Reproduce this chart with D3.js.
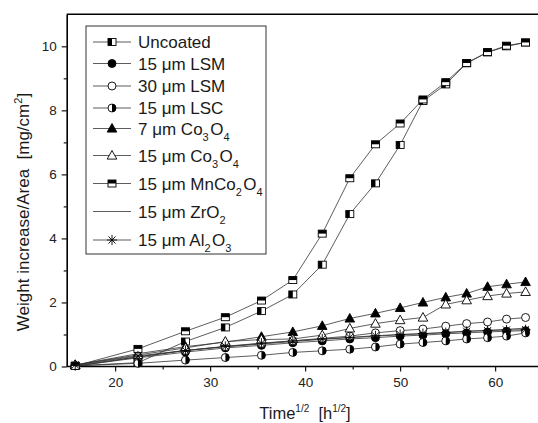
<!DOCTYPE html>
<html><head><meta charset="utf-8">
<script src="https://cdn.jsdelivr.net/npm/d3@7"></script>
<style>body{margin:0;background:#fff;overflow:hidden}</style>
</head><body>
<svg id="chart" width="538" height="423"></svg>
<script>
// ---- data ----
const timeSqrt = [15.8, 22.4, 27.4, 31.6, 35.4, 38.7, 41.8, 44.7, 47.4, 50.0, 52.4, 54.8, 57.0, 59.2, 61.2, 63.2];
const uncoated = [0.02, 0.12, 0.78, 1.22, 1.73, 2.25, 3.18, 4.76, 5.72, 6.92, 8.29, 8.81, 9.47, 9.81, 10.0, 10.12];
const lsm15    = [0.02, 0.27, 0.45, 0.58, 0.66, 0.74, 0.80, 0.86, 0.90, 0.95, 0.98, 1.02, 1.05, 1.08, 1.10, 1.12];
const lsm30    = [0.03, 0.30, 0.50, 0.62, 0.72, 0.80, 0.88, 0.95, 1.05, 1.12, 1.17, 1.26, 1.34, 1.39, 1.48, 1.53];
const lsc15    = [0.02, 0.10, 0.20, 0.28, 0.35, 0.44, 0.49, 0.54, 0.61, 0.70, 0.75, 0.80, 0.86, 0.90, 0.95, 1.05];
const co3o4_7  = [0.05, 0.40, 0.62, 0.76, 0.93, 1.08, 1.27, 1.50, 1.66, 1.83, 2.00, 2.16, 2.28, 2.49, 2.57, 2.64];
const co3o4_15 = [0.05, 0.36, 0.58, 0.78, 0.84, 0.86, 0.98, 1.19, 1.34, 1.45, 1.53, 1.94, 2.07, 2.20, 2.28, 2.33];
const mnco2o4  = [0.02, 0.55, 1.10, 1.54, 2.06, 2.70, 4.15, 5.88, 6.94, 7.59, 8.34, 8.88, 9.48, 9.82, 10.02, 10.12];
const zro2     = [0.00, 0.30, 0.50, 0.62, 0.70, 0.78, 0.85, 0.90, 0.95, 0.99, 1.02, 1.06, 1.10, 1.13, 1.16, 1.20];
const al2o3    = [0.05, 0.33, 0.50, 0.63, 0.73, 0.80, 0.86, 0.91, 0.96, 1.00, 1.03, 1.06, 1.10, 1.12, 1.14, 1.15];

const seriesLabels = ["Uncoated", "15 μm LSM", "30 μm LSM", "15 μm LSC", "7 μm Co_3O_4",
                      "15 μm Co_3O_4", "15 μm MnCo_2O_4", "15 μm ZrO_2", "15 μm Al_2O_3"];
const seriesValues = [uncoated, lsm15, lsm30, lsc15, co3o4_7, co3o4_15, mnco2o4, zro2, al2o3];
const xTicks = [20, 30, 40, 50, 60];
const xMinor = [25, 35, 45, 55];
const yTicks = [0, 2, 4, 6, 8, 10];
const yMinor = [1, 3, 5, 7, 9];

// ---- style ----
const markerTypes = ["sqLeft", "circleFill", "circleOpen", "circleHalf", "triFill", "triOpen", "sqTop", "none", "asterisk"];
const FONT = "'Liberation Sans', Arial, Helvetica, sans-serif";
const INK = "#1a1a1a";

const svg = d3.select("#chart");
const x = d3.scaleLinear().domain([14.9, 64.5]).range([66.7, 537.9]);
const y = d3.scaleLinear().domain([0, 11]).range([366.5, 14.3]);
const x0 = x.range()[0], y0 = y.range()[0];

// frame top
svg.append("line").attr("x1", x0).attr("x2", 540).attr("y1", y(11)).attr("y2", y(11))
  .attr("stroke", "#000").attr("stroke-width", 1.6);

// axes
const gx = svg.append("g").attr("transform", `translate(0,${y0})`)
  .call(d3.axisBottom(x).tickValues(xTicks).tickSize(5).tickSizeOuter(0).tickPadding(6));
svg.append("g").attr("transform", `translate(0,${y0})`)
  .call(d3.axisBottom(x).tickValues(xMinor).tickSize(3).tickFormat(""))
  .call(g => g.select(".domain").remove());
const gy = svg.append("g").attr("transform", `translate(${x0},0)`)
  .call(d3.axisLeft(y).tickValues(yTicks).tickSize(5).tickSizeOuter(0).tickPadding(5));
svg.append("g").attr("transform", `translate(${x0},0)`)
  .call(d3.axisLeft(y).tickValues(yMinor).tickSize(3).tickFormat(""))
  .call(g => g.select(".domain").remove());
gx.select(".domain").attr("d", `M${x0},0H540`);
svg.selectAll(".domain").attr("stroke", "#000").attr("stroke-width", 1.6);
svg.selectAll(".tick line").attr("stroke", "#000").attr("stroke-width", 1.1);
svg.selectAll(".tick text").attr("font-family", FONT).attr("font-size", 13.5).attr("fill", "#222");

// markers
function drawMarker(g, type, cx, cy) {
  const s = 4;
  if (type === "none") return;
  if (type === "sqLeft" || type === "sqTop") {
    g.append("rect").attr("x", cx - s).attr("y", cy - s + 0.5).attr("width", 2 * s).attr("height", 2 * s - 1)
      .attr("fill", "#fff").attr("stroke", "#000").attr("stroke-width", 0.9);
    if (type === "sqLeft")
      g.append("rect").attr("x", cx - s).attr("y", cy - s + 0.5).attr("width", s).attr("height", 2 * s - 1).attr("fill", "#000");
    else
      g.append("rect").attr("x", cx - s).attr("y", cy - s + 0.5).attr("width", 2 * s).attr("height", s - 0.5).attr("fill", "#000");
  } else if (type === "circleFill" || type === "circleOpen") {
    g.append("circle").attr("cx", cx).attr("cy", cy).attr("r", 4)
      .attr("fill", type === "circleFill" ? "#000" : "#fff").attr("stroke", "#000").attr("stroke-width", 0.9);
  } else if (type === "circleHalf") {
    g.append("circle").attr("cx", cx).attr("cy", cy).attr("r", 4)
      .attr("fill", "#fff").attr("stroke", "#000").attr("stroke-width", 0.9);
    g.append("path").attr("d", `M${cx},${cy - 4}A4,4 0 0 1 ${cx},${cy + 4}Z`).attr("fill", "#000");
  } else if (type === "triFill" || type === "triOpen") {
    g.append("path").attr("d", `M${cx},${cy - 5}L${cx + 4.8},${cy + 3.6}L${cx - 4.8},${cy + 3.6}Z`)
      .attr("fill", type === "triFill" ? "#000" : "#fff").attr("stroke", "#000").attr("stroke-width", 0.9);
  } else if (type === "asterisk") {
    let d = "";
    for (let k = 0; k < 4; k++) {
      const a = k * Math.PI / 4;
      const dx = 5 * Math.cos(a), dy = 5 * Math.sin(a);
      d += `M${cx - dx},${cy - dy}L${cx + dx},${cy + dy}`;
    }
    g.append("path").attr("d", d).attr("stroke", "#000").attr("stroke-width", 0.9).attr("fill", "none");
  }
}

const line = d3.line().x(d => x(d[0])).y(d => y(d[1]));
seriesValues.forEach((vals, i) => {
  const pts = timeSqrt.map((t, j) => [t, vals[j]]);
  const g = svg.append("g");
  g.append("path").attr("d", line(pts)).attr("fill", "none").attr("stroke", "#333").attr("stroke-width", 0.8);
  pts.forEach(p => drawMarker(g, markerTypes[i], x(p[0]), y(p[1])));
});

// text with subscripts
function richText(t, str, subSize, shift) {
  const parts = str.split(/_(\d)/);
  parts.forEach((p, k) => {
    if (p === "") return;
    if (k % 2 === 1) {
      t.append("tspan").attr("font-size", subSize).attr("dy", shift).text(p);
      t.append("tspan").attr("dy", -shift).text("\u200A");
    } else t.append("tspan").text(p);
  });
}

// legend
const lg = svg.append("g");
lg.append("rect").attr("x", 86).attr("y", 26).attr("width", 180).attr("height", 228)
  .attr("fill", "#fff").attr("stroke", "#333").attr("stroke-width", 1);
const rowY = [42, 63.5, 86, 108, 128.5, 155.5, 183.5, 211.5, 240];
seriesLabels.forEach((lab, i) => {
  const ry = rowY[i];
  lg.append("line").attr("x1", 93).attr("x2", 131).attr("y1", ry).attr("y2", ry).attr("stroke", "#333").attr("stroke-width", 0.8);
  drawMarker(lg, markerTypes[i], 112, ry);
  const t = lg.append("text").attr("x", 138).attr("y", ry + 6).attr("font-family", FONT).attr("font-size", 17).attr("fill", INK);
  richText(t, lab, 11, 6);
});

// axis titles
const xt = svg.append("text").attr("x", 305).attr("y", 419).attr("text-anchor", "middle")
  .attr("font-family", FONT).attr("font-size", 16.5).attr("fill", INK);
xt.append("tspan").text("Time");
xt.append("tspan").attr("font-size", 10).attr("dy", -7).text("1/2");
xt.append("tspan").attr("dy", 7).text("\u00A0 [h");
xt.append("tspan").attr("font-size", 10).attr("dy", -7).text("1/2");
xt.append("tspan").attr("dy", 7).text("]");

const yt = svg.append("text").attr("transform", "translate(29,212) rotate(-90)").attr("text-anchor", "middle")
  .attr("font-family", FONT).attr("font-size", 17).attr("fill", INK);
yt.append("tspan").text("Weight increase/Area\u00A0 [mg/cm");
yt.append("tspan").attr("font-size", 11).attr("dy", -7).text("2");
yt.append("tspan").attr("dy", 7).text("]");
</script>
</body></html>
